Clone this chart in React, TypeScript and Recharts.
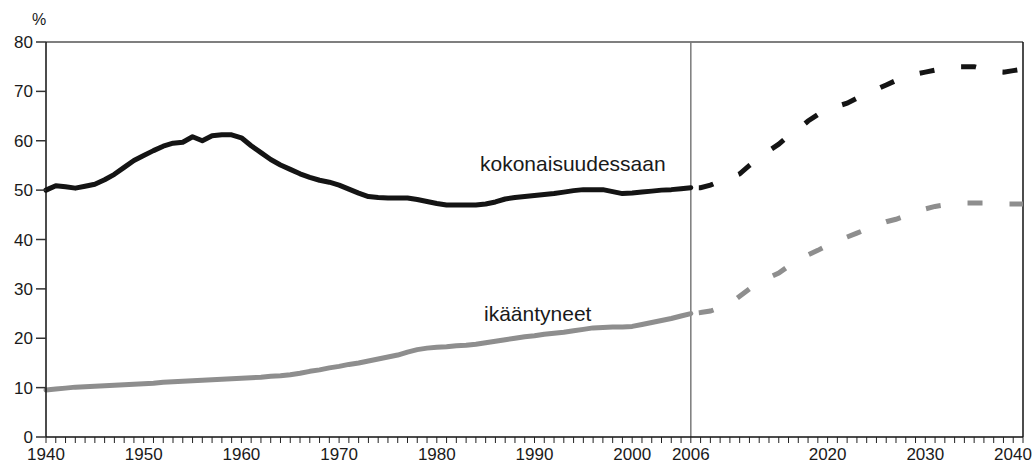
import React from "react";
import {
  LineChart,
  Line,
  XAxis,
  YAxis,
  ReferenceLine,
} from "recharts";

// share of dependants, 1940-2006 observed, 2006-2040 projection
const firstYear = 1940;
const splitYear = 2006;
const lastYear = 2040;

const totalHist = [
  50.0, 50.9, 50.7, 50.4, 50.8, 51.2, 52.1, 53.2, 54.6, 56.0,
  57.0, 58.0, 58.9, 59.5, 59.7, 60.8, 60.0, 61.0, 61.2, 61.2,
  60.6, 59.0, 57.6, 56.2, 55.1, 54.2, 53.3, 52.6, 52.0, 51.6,
  51.0, 50.2, 49.4, 48.7, 48.5, 48.4, 48.4, 48.4, 48.1, 47.7,
  47.3, 47.0, 47.0, 47.0, 47.0, 47.2, 47.6, 48.2, 48.5, 48.7,
  48.9, 49.1, 49.3, 49.6, 49.9, 50.1, 50.1, 50.1, 49.7, 49.3,
  49.4, 49.6, 49.8, 50.0, 50.1, 50.3, 50.5,
];
const agedHist = [
  9.5, 9.7, 9.9, 10.1, 10.2, 10.3, 10.4, 10.5, 10.6, 10.7,
  10.8, 10.9, 11.1, 11.2, 11.3, 11.4, 11.5, 11.6, 11.7, 11.8,
  11.9, 12.0, 12.1, 12.3, 12.4, 12.6, 12.9, 13.3, 13.6, 14.0,
  14.3, 14.7, 15.0, 15.4, 15.8, 16.2, 16.6, 17.2, 17.7, 18.0,
  18.2, 18.3, 18.5, 18.6, 18.8, 19.1, 19.4, 19.7, 20.0, 20.3,
  20.5, 20.8, 21.0, 21.2, 21.5, 21.8, 22.1, 22.2, 22.3, 22.3,
  22.4, 22.8, 23.2, 23.6, 24.0, 24.5, 25.0,
];
const totalProj = [
  50.5, 50.5, 51.0, 51.8, 52.5, 53.3, 55.0, 56.5, 58.0, 59.3,
  61.0, 62.3, 64.0, 65.3, 66.5, 67.0, 67.6, 68.6, 69.5, 70.4,
  71.3, 72.2, 73.0, 73.5, 73.9, 74.3, 74.7, 75.0, 75.0, 75.0,
  74.5, 74.0, 73.9, 74.2, 74.5,
];
const agedProj = [
  25.0, 25.2, 25.5, 26.2, 27.0, 28.5, 30.0, 31.3, 32.3, 33.2,
  34.6, 36.0, 36.9, 37.8, 38.8, 39.7, 40.5, 41.3, 42.1, 42.9,
  43.6, 44.1, 44.8, 45.5, 46.2, 46.7, 47.0, 47.2, 47.4, 47.4,
  47.4, 47.3, 47.2, 47.2, 47.2,
];

const labelYears = [1940, 1950, 1960, 1970, 1980, 1990, 2000, 2006, 2020, 2030, 2040];
const yTicks = [0, 10, 20, 30, 40, 50, 60, 70, 80];

const allYears: number[] = [];
for (let y = firstYear; y <= lastYear; y++) allYears.push(y);

const data = allYears.map((year) => ({
  year,
  totalHist: year <= splitYear ? totalHist[year - firstYear] : null,
  agedHist: year <= splitYear ? agedHist[year - firstYear] : null,
  totalProj: year >= splitYear ? totalProj[year - splitYear] : null,
  agedProj: year >= splitYear ? agedProj[year - splitYear] : null,
}));

const BLACK = "#141414";
const GREY = "#8e8e8e";
const FONT = "'Liberation Sans', Arial, sans-serif";

const YearTick = (props: any) => {
  const { x, y, payload } = props;
  if (!labelYears.includes(payload.value)) return null;
  // last label is pulled in a little so it stays inside the frame
  const shift = payload.value === lastYear ? -10 : 0;
  return (
    <text
      x={x + shift}
      y={y}
      dy="0.71em"
      textAnchor="middle"
      fontFamily={FONT}
      fontSize={17}
      fill="#1a1a1a"
    >
      {payload.value}
    </text>
  );
};

export default function App() {
  return (
    <div style={{ position: "absolute", left: 0, top: 0, width: 1036, height: 465, background: "#fff" }}>
      <LineChart
        width={1036}
        height={465}
        data={data}
        margin={{ top: 42, right: 13, bottom: 0, left: 0 }}
      >
        <ReferenceLine y={80} stroke="#555" strokeWidth={1.5} />
        <ReferenceLine x={lastYear} stroke="#111" strokeWidth={1.5} />
        <ReferenceLine x={splitYear} stroke="#7a7a7a" strokeWidth={1.5} />
        <XAxis
          dataKey="year"
          type="number"
          domain={[firstYear, lastYear]}
          ticks={allYears}
          interval={0}
          tickSize={6}
          tickMargin={5}
          height={28}
          axisLine={{ stroke: "#111", strokeWidth: 1.5 }}
          tickLine={{ stroke: "#222", strokeWidth: 1 }}
          tick={<YearTick />}
        />
        <YAxis
          type="number"
          domain={[0, 80]}
          ticks={yTicks}
          width={46}
          tickSize={10}
          tickMargin={3}
          axisLine={{ stroke: "#111", strokeWidth: 1.5 }}
          tickLine={{ stroke: "#333", strokeWidth: 1.5 }}
          tick={{ fontFamily: FONT, fill: "#1a1a1a", fontSize: 17 }}
        />
        <Line
          dataKey="agedHist"
          stroke={GREY}
          strokeWidth={5}
          strokeLinecap="round"
          strokeLinejoin="round"
          dot={false}
          isAnimationActive={false}
        />
        <Line
          dataKey="agedProj"
          stroke={GREY}
          strokeWidth={5}
          strokeDasharray="15 27"
          strokeDashoffset={34}
          dot={false}
          isAnimationActive={false}
        />
        <Line
          dataKey="totalHist"
          stroke={BLACK}
          strokeWidth={5}
          strokeLinecap="round"
          strokeLinejoin="round"
          dot={false}
          isAnimationActive={false}
        />
        <Line
          dataKey="totalProj"
          stroke={BLACK}
          strokeWidth={5}
          strokeDasharray="15 27"
          strokeDashoffset={34}
          dot={false}
          isAnimationActive={false}
        />
      </LineChart>
      <span style={{ position: "absolute", left: 32, top: 6, fontSize: 16, ...labelStyle }}>%</span>
      <span style={{ position: "absolute", left: 480, top: 150, fontSize: 21, ...labelStyle }}>
        kokonaisuudessaan
      </span>
      <span style={{ position: "absolute", left: 484, top: 300, fontSize: 21, ...labelStyle }}>
        ikääntyneet
      </span>
    </div>
  );
}

const labelStyle: React.CSSProperties = {
  fontFamily: FONT,
  color: "#1a1a1a",
  lineHeight: "28px",
  whiteSpace: "nowrap",
};
